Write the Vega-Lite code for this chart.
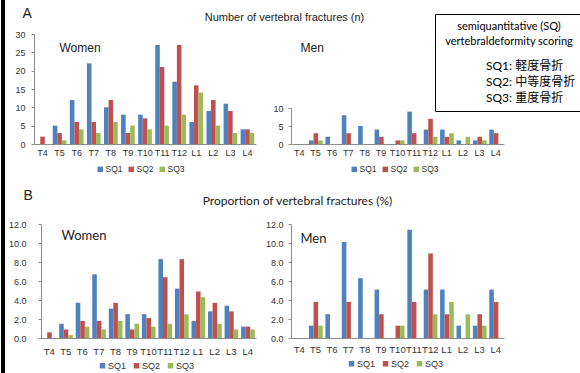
{
  "$schema": "https://vega.github.io/schema/vega-lite/v6.json",
  "padding": 0,
  "autosize": {"type": "pad"},
  "background": "white",
  "config": {
    "view": {"stroke": null},
    "font": "Liberation Sans",
    "axis": {"grid": false, "domainColor": "#8c8c8c", "tickColor": "#8c8c8c", "labelColor": "#333333", "labelFontSize": 9, "labelFont": "Liberation Sans", "titleFontWeight": "normal", "titleColor": "#222222", "titleAngle": 0, "titleFont": "Liberation Sans"},
    "axisX": {"ticks": false, "labelAngle": 0, "labelPadding": 4},
    "axisY": {"tickSize": 3, "labelPadding": 5},
    "legend": {"symbolStrokeWidth": 0}
  },
  "datasets": {
    "wn": [
      {"v":"T4","s":"SQ1","y":0},{"v":"T4","s":"SQ2","y":2},{"v":"T4","s":"SQ3","y":0},
      {"v":"T5","s":"SQ1","y":5},{"v":"T5","s":"SQ2","y":3},{"v":"T5","s":"SQ3","y":1},
      {"v":"T6","s":"SQ1","y":12},{"v":"T6","s":"SQ2","y":6},{"v":"T6","s":"SQ3","y":4},
      {"v":"T7","s":"SQ1","y":22},{"v":"T7","s":"SQ2","y":6},{"v":"T7","s":"SQ3","y":3},
      {"v":"T8","s":"SQ1","y":10},{"v":"T8","s":"SQ2","y":12},{"v":"T8","s":"SQ3","y":6},
      {"v":"T9","s":"SQ1","y":8},{"v":"T9","s":"SQ2","y":3},{"v":"T9","s":"SQ3","y":5},
      {"v":"T10","s":"SQ1","y":8},{"v":"T10","s":"SQ2","y":7},{"v":"T10","s":"SQ3","y":4},
      {"v":"T11","s":"SQ1","y":27},{"v":"T11","s":"SQ2","y":21},{"v":"T11","s":"SQ3","y":5},
      {"v":"T12","s":"SQ1","y":17},{"v":"T12","s":"SQ2","y":27},{"v":"T12","s":"SQ3","y":8},
      {"v":"L1","s":"SQ1","y":6},{"v":"L1","s":"SQ2","y":16},{"v":"L1","s":"SQ3","y":14},
      {"v":"L2","s":"SQ1","y":9},{"v":"L2","s":"SQ2","y":12},{"v":"L2","s":"SQ3","y":5},
      {"v":"L3","s":"SQ1","y":11},{"v":"L3","s":"SQ2","y":9},{"v":"L3","s":"SQ3","y":3},
      {"v":"L4","s":"SQ1","y":4},{"v":"L4","s":"SQ2","y":4},{"v":"L4","s":"SQ3","y":3}
    ],
    "mn": [
      {"v":"T4","s":"SQ1","y":0},{"v":"T4","s":"SQ2","y":0},{"v":"T4","s":"SQ3","y":0},
      {"v":"T5","s":"SQ1","y":1},{"v":"T5","s":"SQ2","y":3},{"v":"T5","s":"SQ3","y":1},
      {"v":"T6","s":"SQ1","y":2},{"v":"T6","s":"SQ2","y":0},{"v":"T6","s":"SQ3","y":0},
      {"v":"T7","s":"SQ1","y":8},{"v":"T7","s":"SQ2","y":3},{"v":"T7","s":"SQ3","y":0},
      {"v":"T8","s":"SQ1","y":5},{"v":"T8","s":"SQ2","y":0},{"v":"T8","s":"SQ3","y":0},
      {"v":"T9","s":"SQ1","y":4},{"v":"T9","s":"SQ2","y":2},{"v":"T9","s":"SQ3","y":0},
      {"v":"T10","s":"SQ1","y":0},{"v":"T10","s":"SQ2","y":1},{"v":"T10","s":"SQ3","y":1},
      {"v":"T11","s":"SQ1","y":9},{"v":"T11","s":"SQ2","y":3},{"v":"T11","s":"SQ3","y":0},
      {"v":"T12","s":"SQ1","y":4},{"v":"T12","s":"SQ2","y":7},{"v":"T12","s":"SQ3","y":2},
      {"v":"L1","s":"SQ1","y":4},{"v":"L1","s":"SQ2","y":2},{"v":"L1","s":"SQ3","y":3},
      {"v":"L2","s":"SQ1","y":1},{"v":"L2","s":"SQ2","y":0},{"v":"L2","s":"SQ3","y":2},
      {"v":"L3","s":"SQ1","y":1},{"v":"L3","s":"SQ2","y":2},{"v":"L3","s":"SQ3","y":1},
      {"v":"L4","s":"SQ1","y":4},{"v":"L4","s":"SQ2","y":3},{"v":"L4","s":"SQ3","y":0}
    ],
    "wp": [
      {"v":"T4","s":"SQ1","y":0},{"v":"T4","s":"SQ2","y":0.6},{"v":"T4","s":"SQ3","y":0},
      {"v":"T5","s":"SQ1","y":1.5},{"v":"T5","s":"SQ2","y":0.9},{"v":"T5","s":"SQ3","y":0.3},
      {"v":"T6","s":"SQ1","y":3.7},{"v":"T6","s":"SQ2","y":1.8},{"v":"T6","s":"SQ3","y":1.2},
      {"v":"T7","s":"SQ1","y":6.7},{"v":"T7","s":"SQ2","y":1.8},{"v":"T7","s":"SQ3","y":0.9},
      {"v":"T8","s":"SQ1","y":3.1},{"v":"T8","s":"SQ2","y":3.7},{"v":"T8","s":"SQ3","y":1.8},
      {"v":"T9","s":"SQ1","y":2.5},{"v":"T9","s":"SQ2","y":0.9},{"v":"T9","s":"SQ3","y":1.5},
      {"v":"T10","s":"SQ1","y":2.5},{"v":"T10","s":"SQ2","y":2.1},{"v":"T10","s":"SQ3","y":1.2},
      {"v":"T11","s":"SQ1","y":8.3},{"v":"T11","s":"SQ2","y":6.4},{"v":"T11","s":"SQ3","y":1.5},
      {"v":"T12","s":"SQ1","y":5.2},{"v":"T12","s":"SQ2","y":8.3},{"v":"T12","s":"SQ3","y":2.5},
      {"v":"L1","s":"SQ1","y":1.8},{"v":"L1","s":"SQ2","y":4.9},{"v":"L1","s":"SQ3","y":4.3},
      {"v":"L2","s":"SQ1","y":2.8},{"v":"L2","s":"SQ2","y":3.7},{"v":"L2","s":"SQ3","y":1.5},
      {"v":"L3","s":"SQ1","y":3.4},{"v":"L3","s":"SQ2","y":2.8},{"v":"L3","s":"SQ3","y":0.9},
      {"v":"L4","s":"SQ1","y":1.2},{"v":"L4","s":"SQ2","y":1.2},{"v":"L4","s":"SQ3","y":0.9}
    ],
    "mp": [
      {"v":"T4","s":"SQ1","y":0},{"v":"T4","s":"SQ2","y":0},{"v":"T4","s":"SQ3","y":0},
      {"v":"T5","s":"SQ1","y":1.3},{"v":"T5","s":"SQ2","y":3.8},{"v":"T5","s":"SQ3","y":1.3},
      {"v":"T6","s":"SQ1","y":2.5},{"v":"T6","s":"SQ2","y":0},{"v":"T6","s":"SQ3","y":0},
      {"v":"T7","s":"SQ1","y":10.1},{"v":"T7","s":"SQ2","y":3.8},{"v":"T7","s":"SQ3","y":0},
      {"v":"T8","s":"SQ1","y":6.3},{"v":"T8","s":"SQ2","y":0},{"v":"T8","s":"SQ3","y":0},
      {"v":"T9","s":"SQ1","y":5.1},{"v":"T9","s":"SQ2","y":2.5},{"v":"T9","s":"SQ3","y":0},
      {"v":"T10","s":"SQ1","y":0},{"v":"T10","s":"SQ2","y":1.3},{"v":"T10","s":"SQ3","y":1.3},
      {"v":"T11","s":"SQ1","y":11.4},{"v":"T11","s":"SQ2","y":3.8},{"v":"T11","s":"SQ3","y":0},
      {"v":"T12","s":"SQ1","y":5.1},{"v":"T12","s":"SQ2","y":8.9},{"v":"T12","s":"SQ3","y":2.5},
      {"v":"L1","s":"SQ1","y":5.1},{"v":"L1","s":"SQ2","y":2.5},{"v":"L1","s":"SQ3","y":3.8},
      {"v":"L2","s":"SQ1","y":1.3},{"v":"L2","s":"SQ2","y":0},{"v":"L2","s":"SQ3","y":2.5},
      {"v":"L3","s":"SQ1","y":1.3},{"v":"L3","s":"SQ2","y":2.5},{"v":"L3","s":"SQ3","y":1.3},
      {"v":"L4","s":"SQ1","y":5.1},{"v":"L4","s":"SQ2","y":3.8},{"v":"L4","s":"SQ3","y":0}
    ],
    "box": [
      {"d":"SQ1: 軽度骨折"},{"d":"SQ2: 中等度骨折"},{"d":"SQ3: 重度骨折"}
    ]
  },
  "bounds": "flush",
  "spacing": 29,
  "resolve": {"scale": {"color": "independent", "shape": "independent"}, "legend": {"color": "independent", "shape": "independent"}},
  "hconcat": [
    {
      "width": 4, "height": 373,
      "view": {"fill": "black", "stroke": null},
      "data": {"values": [{}]},
      "mark": {"type": "point", "opacity": 0},
      "encoding": {}
    },
    {
      "bounds": "flush",
      "spacing": 0,
      "resolve": {"scale": {"color": "independent", "shape": "independent"}, "legend": {"color": "independent", "shape": "independent"}},
      "vconcat": [
        {
          "width": 1, "height": 34,
          "data": {"values": [{}]},
          "mark": {"type": "point", "opacity": 0},
          "encoding": {}
        },
        {
          "bounds": "flush",
          "spacing": 35,
          "resolve": {"scale": {"color": "independent", "shape": "independent"}, "legend": {"color": "independent", "shape": "independent"}},
          "hconcat": [
            {
              "width": 222, "height": 110,
              "data": {"name": "wn"},
              "mark": "bar",
              "encoding": {
                "x": {"field": "v", "type": "nominal", "sort": ["T4","T5","T6","T7","T8","T9","T10","T11","T12","L1","L2","L3","L4"], "scale": {"paddingInner": 0.2, "paddingOuter": 0.1},
                  "axis": {"title": "Women", "titleX": 25, "titleY": -97, "titleAlign": "left", "titleBaseline": "middle", "titleFontSize": 12}},
                "xOffset": {"field": "s", "sort": ["SQ1","SQ2","SQ3"]},
                "y": {"field": "y", "type": "quantitative", "scale": {"domain": [0, 30]},
                  "axis": {"values": [0,5,10,15,20,25,30], "title": "A", "titleX": -12, "titleY": -21, "titleAlign": "left", "titleBaseline": "middle", "titleFontSize": 14, "labelPadding": 6}},
                "color": {"field": "s", "type": "nominal", "scale": {"domain": ["SQ1","SQ2","SQ3"], "range": ["#4F81BD","#C0504D","#9BBB59"]},
                  "legend": {"title": null, "orient": "none", "legendX": 62, "legendY": 131, "direction": "horizontal", "symbolType": "square", "symbolSize": 30, "labelFontSize": 8.5, "labelOffset": 1, "columnPadding": 4, "labelColor": "#333333"}}
              }
            },
            {
              "width": 213, "height": 110,
              "layer": [
                {
                  "data": {"name": "mn"},
                  "mark": "bar",
                  "encoding": {
                    "x": {"field": "v", "type": "nominal", "sort": ["T4","T5","T6","T7","T8","T9","T10","T11","T12","L1","L2","L3","L4"], "scale": {"paddingInner": 0.2, "paddingOuter": 0.1},
                      "axis": {"title": "Men", "titleX": 9, "titleY": -97, "titleAlign": "left", "titleBaseline": "middle", "titleFontSize": 12}},
                    "xOffset": {"field": "s", "sort": ["SQ1","SQ2","SQ3"]},
                    "y": {"field": "y", "type": "quantitative", "scale": {"domain": [0, 10], "range": [110, 74]},
                      "axis": {"values": [0,5,10], "title": "Number of vertebral fractures (n)", "titleX": -7, "titleY": -17, "titleAlign": "center", "titleBaseline": "middle", "titleFontSize": 11}},
                    "color": {"field": "s", "type": "nominal", "scale": {"domain": ["SQ1","SQ2","SQ3"], "range": ["#4F81BD","#C0504D","#9BBB59"]},
                      "legend": {"title": null, "orient": "none", "legendX": 59, "legendY": 131, "direction": "horizontal", "symbolType": "square", "symbolSize": 30, "labelFontSize": 8.5, "labelOffset": 1, "columnPadding": 4, "labelColor": "#333333"}}
                  }
                },
                {
                  "data": {"name": "box"},
                  "mark": {"type": "point", "opacity": 0},
                  "encoding": {
                    "shape": {"field": "d", "type": "nominal",
                      "legend": {"orient": "none", "legendX": 144, "legendY": -20, "direction": "vertical",
                        "title": ["semiquantitative (SQ)", "vertebraldeformity scoring"],
                        "titleFont": "Lato", "titleFontSize": 11, "titleFontWeight": "normal", "titleAnchor": "middle", "titleAlign": "center", "titleLineHeight": 15, "titlePadding": 13, "titleColor": "#000000", "titleLimit": 400,
                        "labelFont": "Lato, Noto Sans CJK JP", "labelFontSize": 12, "labelColor": "#000000", "labelOffset": 32, "labelLimit": 400,
                        "symbolSize": 0, "symbolOpacity": 0, "symbolStrokeWidth": 0,
                        "rowPadding": 4, "padding": 7, "strokeColor": "#000000"}}
                  }
                }
              ]
            }
          ]
        },
        {
          "width": 1, "height": 190,
          "data": {"values": [{}]},
          "mark": {"type": "point", "opacity": 0},
          "encoding": {}
        },
        {
          "bounds": "flush",
          "spacing": 0,
          "resolve": {"scale": {"color": "independent", "shape": "independent"}, "legend": {"color": "independent", "shape": "independent"}},
          "hconcat": [
            {
              "width": 7, "height": 1,
              "data": {"values": [{}]},
              "mark": {"type": "point", "opacity": 0},
              "encoding": {}
            },
            {
              "bounds": "flush",
              "spacing": 35,
              "resolve": {"scale": {"color": "independent", "shape": "independent"}, "legend": {"color": "independent", "shape": "independent"}},
              "hconcat": [
                {
                  "width": 215, "height": 114,
                  "data": {"name": "wp"},
                  "mark": "bar",
                  "encoding": {
                    "x": {"field": "v", "type": "nominal", "sort": ["T4","T5","T6","T7","T8","T9","T10","T11","T12","L1","L2","L3","L4"], "scale": {"paddingInner": 0.2, "paddingOuter": 0.1},
                      "axis": {"title": "Women", "titleX": 20, "titleY": -103, "titleAlign": "left", "titleBaseline": "middle", "titleFontSize": 13, "titleFont": "Lato", "labelPadding": 8, "labelFontSize": 9.5}},
                    "xOffset": {"field": "s", "sort": ["SQ1","SQ2","SQ3"]},
                    "y": {"field": "y", "type": "quantitative", "scale": {"domain": [0, 12]},
                      "axis": {"values": [0,2,4,6,8,10,12], "format": ".1f", "title": "B", "titleX": -18, "titleY": -29, "titleAlign": "left", "titleBaseline": "middle", "titleFontSize": 14, "labelPadding": 12}},
                    "color": {"field": "s", "type": "nominal", "scale": {"domain": ["SQ1","SQ2","SQ3"], "range": ["#4F81BD","#C0504D","#9BBB59"]},
                      "legend": {"title": null, "orient": "none", "legendX": 57, "legendY": 137, "direction": "horizontal", "symbolType": "square", "symbolSize": 30, "labelFontSize": 9, "labelOffset": 1, "columnPadding": 5, "labelColor": "#333333"}}
                  }
                },
                {
                  "width": 213, "height": 114,
                  "data": {"name": "mp"},
                  "mark": "bar",
                  "encoding": {
                    "x": {"field": "v", "type": "nominal", "sort": ["T4","T5","T6","T7","T8","T9","T10","T11","T12","L1","L2","L3","L4"], "scale": {"paddingInner": 0.2, "paddingOuter": 0.1},
                      "axis": {"title": "Men", "titleX": 9, "titleY": -100, "titleAlign": "left", "titleBaseline": "middle", "titleFontSize": 13, "titleFont": "Lato", "labelPadding": 6, "labelFontSize": 9.5}},
                    "xOffset": {"field": "s", "sort": ["SQ1","SQ2","SQ3"]},
                    "y": {"field": "y", "type": "quantitative", "scale": {"domain": [0, 12]},
                      "axis": {"values": [0,2,4,6,8,10,12], "format": ".1f", "title": "Proportion of vertebral fractures (%)", "titleX": 6, "titleY": -24, "titleAlign": "center", "titleBaseline": "middle", "titleFontSize": 12, "titleFont": "Lato"}},
                    "color": {"field": "s", "type": "nominal", "scale": {"domain": ["SQ1","SQ2","SQ3"], "range": ["#4F81BD","#C0504D","#9BBB59"]},
                      "legend": {"title": null, "orient": "none", "legendX": 56, "legendY": 135, "direction": "horizontal", "symbolType": "square", "symbolSize": 30, "labelFontSize": 9, "labelOffset": 1, "columnPadding": 5, "labelColor": "#333333"}}
                  }
                }
              ]
            }
          ]
        }
      ]
    }
  ]
}
